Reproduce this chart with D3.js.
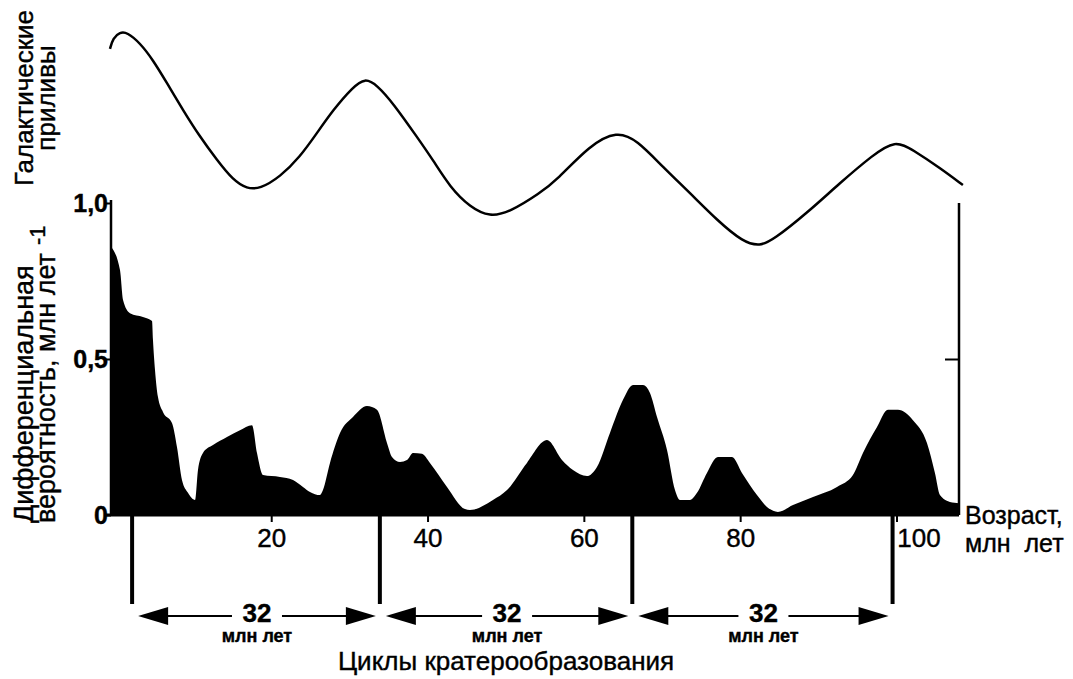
<!DOCTYPE html>
<html><head><meta charset="utf-8">
<script src="https://cdn.jsdelivr.net/npm/d3@7"></script>
<style>
html,body{margin:0;padding:0;background:#fff;}
svg{display:block;font-family:"Liberation Sans",Arial,sans-serif;}
text{fill:#000;stroke:#000;stroke-width:0.4px;}
</style></head>
<body><svg id="c" width="1073" height="679"></svg>
<script>
// ---- data ----
const densityAge = [-0.5,0.65,1.04,1.93,3.59,4.75,4.87,5.13,5.51,6.15,7.30,7.94,8.58,9.35,10.25,10.63,11.27,12.55,14.34,16.0,17.54,18.18,18.95,21.12,22.79,24.06,24.96,26.24,26.62,27.52,28.80,30.46,32.25,33.53,34.81,35.45,36.48,37.37,38.14,39.29,40.31,42.49,44.79,45.43,48.37,50.17,52.72,55.28,57.20,58.61,60.40,61.68,63.34,65.01,66.29,67.57,68.46,69.36,70.64,71.66,72.30,73.58,74.48,75.75,77.16,78.95,80.23,82.15,83.43,84.83,86.76,89.32,92.39,94.43,95.71,97.51,98.91,100.19,102.11,103.90,104.92,105.56,106.84,108.0];
const densityValue = [0.86,0.785,0.689,0.647,0.635,0.622,0.561,0.465,0.378,0.330,0.295,0.218,0.112,0.071,0.048,0.144,0.199,0.224,0.25,0.272,0.288,0.199,0.128,0.122,0.112,0.090,0.074,0.064,0.080,0.167,0.263,0.314,0.349,0.337,0.231,0.186,0.170,0.176,0.199,0.196,0.167,0.090,0.019,0.016,0.048,0.080,0.167,0.240,0.176,0.144,0.125,0.154,0.263,0.369,0.417,0.417,0.391,0.314,0.208,0.080,0.048,0.048,0.071,0.135,0.186,0.186,0.135,0.064,0.026,0.010,0.032,0.058,0.090,0.128,0.199,0.282,0.337,0.337,0.304,0.231,0.135,0.064,0.042,0.038];
const tideAge = [-0.63,-0.24,0.65,1.55,3.21,4.87,6.66,8.71,10.89,13.06,15.11,16.90,18.56,21.12,23.68,25.86,27.90,30.46,32.0,33.53,35.58,38.65,40.70,42.87,45.43,47.99,50.55,54.39,56.56,60.78,64.24,66.80,70.12,73.58,77.03,80.36,82.53,84.20,88.55,92.77,96.99,99.81,102.11,105.56,108.5];
const tideValue = [0.914,0.964,0.99,0.99,0.941,0.864,0.759,0.636,0.514,0.409,0.318,0.278,0.278,0.332,0.423,0.532,0.636,0.741,0.782,0.75,0.668,0.514,0.409,0.286,0.195,0.150,0.173,0.259,0.318,0.477,0.541,0.5,0.377,0.259,0.136,0.036,0.018,0.045,0.168,0.305,0.432,0.50,0.455,0.373,0.295];
const xTicks = [20,40,60,80,100];
const yTicks = [0,0.5,1.0];
const yTickLabels = ["0","0,5","1,0"];
const cycleBounds = [2.2,33.9,66.2,99.5];
const cycleLabels = ["32","32","32"];

// ---- scales ----
const svg = d3.select("#c");
const x = d3.scaleLinear().domain([-0.5,108]).range([111,959]);
const y = d3.scaleLinear().domain([0,1]).range([515,203]);
const yt = d3.scaleLinear().domain([0,1]).range([250,30]);

// density area
const dens = densityAge.map((a,i)=>({a, v:densityValue[i]}));
svg.append("path").datum(dens)
  .attr("d", d3.area().x(d=>x(d.a)).y0(y(0)).y1(d=>y(d.v)).curve(d3.curveMonotoneX))
  .attr("fill","#000");

// tide curve
const tide = tideAge.map((a,i)=>({a, v:tideValue[i]}));
svg.append("path").datum(tide)
  .attr("d", d3.line().x(d=>x(d.a)).y(d=>yt(d.v)).curve(d3.curveBasis))
  .attr("fill","none").attr("stroke","#000").attr("stroke-width",2.5);

// left axis
const yAxis = d3.axisLeft(y).tickValues(yTicks).tickSize(5)
  .tickFormat((d,i)=>yTickLabels[i]);
const gy = svg.append("g").attr("transform",`translate(${x(-0.5)},0)`).call(yAxis);
gy.select(".domain").attr("stroke","#000").attr("stroke-width",2.5).attr("d",`M0,${y(1)-3}V${y(0)}`);
gy.selectAll(".tick line").attr("stroke-width",2);
gy.selectAll(".tick text").attr("font-size",25).attr("font-weight","bold")
  .attr("font-family","Liberation Sans, Arial, sans-serif").attr("x",-3).attr("dy","0.35em");

// right axis
const yAxisR = d3.axisLeft(y).tickValues([0.5]).tickSize(14).tickFormat("");
const gr = svg.append("g").attr("transform",`translate(${x(108)},0)`).call(yAxisR);
gr.select(".domain").attr("stroke-width",2.5).attr("d",`M0,${y(1)}V${y(0)}`);
gr.selectAll(".tick line").attr("stroke-width",2);

// bottom axis
const xAxis = d3.axisBottom(x).tickValues(xTicks).tickSize(7).tickFormat(d3.format("d"));
const gx = svg.append("g").attr("transform",`translate(0,${y(0)})`).call(xAxis);
gx.select(".domain").attr("stroke-width",3).attr("d",`M${x(-0.5)-6},0H${x(108)}`);
gx.selectAll(".tick line").attr("stroke-width",2);
gx.selectAll(".tick text").attr("font-size",26).attr("font-family","Liberation Sans, Arial, sans-serif")
  .attr("y",14).attr("stroke-width",0.6)
  .attr("dx",d=>d===100?22:0);

// cycle boundary lines
svg.selectAll(".cyc").data(cycleBounds).enter().append("line")
  .attr("x1",d=>x(d)).attr("x2",d=>x(d)).attr("y1",y(0)).attr("y2",604)
  .attr("stroke","#000").attr("stroke-width",4);

// arrows
const ay = 616;
cycleLabels.forEach((lab,i)=>{
  const x0 = x(cycleBounds[i])+6, x1 = x(cycleBounds[i+1])-4;
  const cx = (x0+x1)/2;
  const g = svg.append("g");
  const hl = 30, hh = 9;
  g.append("line").attr("x1",x0+hl-2).attr("x2",cx-25).attr("y1",ay).attr("y2",ay).attr("stroke","#000").attr("stroke-width",2);
  g.append("line").attr("x1",cx+25).attr("x2",x1-hl+2).attr("y1",ay).attr("y2",ay).attr("stroke","#000").attr("stroke-width",2);
  g.append("path").attr("d",`M${x0},${ay}L${x0+hl},${ay-hh}L${x0+hl},${ay+hh}Z`).attr("fill","#000");
  g.append("path").attr("d",`M${x1},${ay}L${x1-hl},${ay-hh}L${x1-hl},${ay+hh}Z`).attr("fill","#000");
  g.append("text").attr("x",cx).attr("y",ay+6).attr("text-anchor","middle")
    .attr("font-size",26).attr("font-weight","bold").text(lab);
  g.append("text").attr("x",cx).attr("y",ay+26).attr("text-anchor","middle")
    .attr("font-size",18).attr("font-weight","bold").attr("stroke-width",0).text("млн лет");
});

// texts
svg.append("text").attr("x",506).attr("y",670).attr("text-anchor","middle")
  .attr("font-size",26).text("Циклы кратерообразования");
svg.append("text").attr("x",965).attr("y",524).attr("font-size",25).text("Возраст,");
svg.append("text").attr("x",965).attr("y",552).attr("font-size",25).attr("xml:space","preserve").text("млн  лет");

// y title
const t1 = svg.append("text").attr("transform","translate(33,523) rotate(-90)").attr("font-size",27);
t1.append("tspan").attr("x",0).attr("y",0).text("Дифференциальная");
t1.append("tspan").attr("x",0).attr("y",22).text("вероятность, млн лет");
t1.append("tspan").attr("dx",8).attr("dy",-10).attr("font-size",22).text("-1");

// tide title
const t2 = svg.append("text").attr("transform","translate(33,98) rotate(-90)").attr("font-size",26).attr("text-anchor","middle");
t2.append("tspan").attr("x",0).attr("y",0).text("Галактические");
t2.append("tspan").attr("x",0).attr("y",22).text("приливы");
</script></body></html>
